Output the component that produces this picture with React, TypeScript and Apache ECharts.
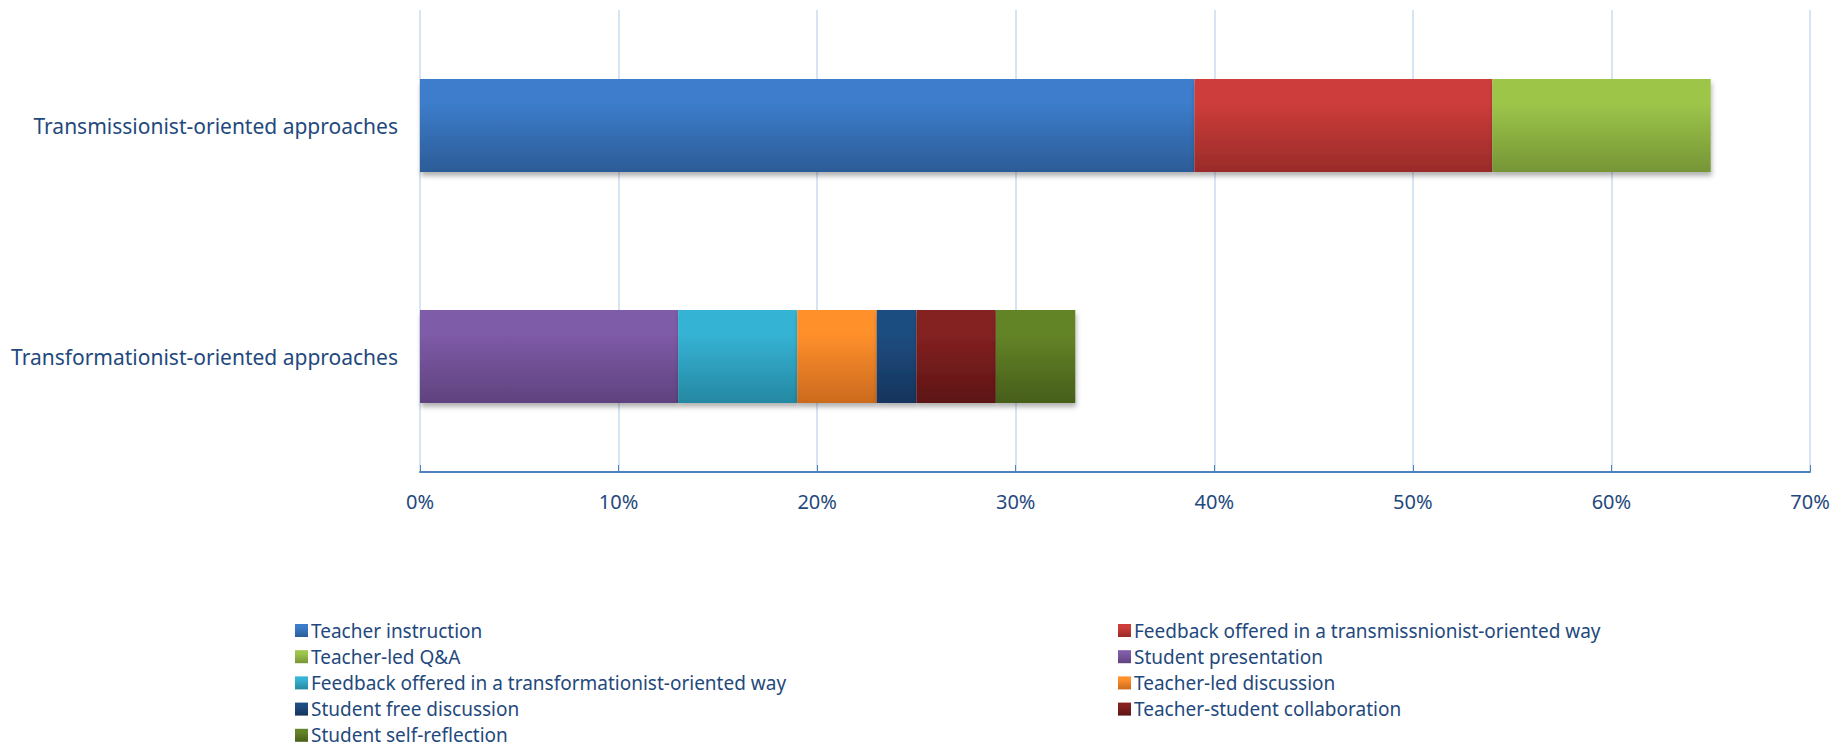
import React, { useEffect, useRef } from "react";
import * as echarts from "echarts";

const categories = ["Transmissionist-oriented approaches", "Transformationist-oriented approaches"];
const seriesNames = [
  "Teacher instruction",
  "Feedback offered in a transmissnionist-oriented way",
  "Teacher-led Q&A",
  "Student presentation",
  "Feedback offered in a transformationist-oriented way",
  "Teacher-led discussion",
  "Student free discussion",
  "Teacher-student collaboration",
  "Student self-reflection",
];
// values per series: [Transmissionist, Transformationist] (percent)
const teacherInstruction = [39, null];
const feedbackTransmission = [15, null];
const teacherLedQA = [11, null];
const studentPresentation = [null, 13];
const feedbackTransformation = [null, 6];
const teacherLedDiscussion = [null, 4];
const studentFreeDiscussion = [null, 2];
const teacherStudentCollab = [null, 4];
const studentSelfReflection = [null, 4];
const seriesValues = [
  teacherInstruction,
  feedbackTransmission,
  teacherLedQA,
  studentPresentation,
  feedbackTransformation,
  teacherLedDiscussion,
  studentFreeDiscussion,
  teacherStudentCollab,
  studentSelfReflection,
];
const gradientColors: [string, string][] = [
  ["#3C7DCB", "#2C5C97"],
  ["#CD3D3A", "#9A2B29"],
  ["#9DC64A", "#769536"],
  ["#7F5BA8", "#5F427E"],
  ["#36B3D5", "#2588A2"],
  ["#FF902C", "#CB6A1E"],
  ["#1F4D80", "#14345D"],
  ["#842121", "#5D1414"],
  ["#648428", "#465E19"],
];
const xTicks = { min: 0, max: 70, interval: 10 };
const leftLegend = [0, 2, 4, 6, 8];
const rightLegend = [1, 3, 5, 7];

const TEXT = "#1F497D";
const FONT = "'Noto Sans', 'Open Sans', sans-serif";

export default function App() {
  const ref = useRef<HTMLDivElement>(null);
  useEffect(() => {
    document.body.style.margin = "0";
    if (!ref.current) return;
    const chart = echarts.init(ref.current, undefined, { renderer: "svg" });
    const grad = (c: [string, string]) =>
      new echarts.graphic.LinearGradient(0, 0, 0, 1, [
        { offset: 0, color: c[0] },
        { offset: 0.25, color: c[0] },
        { offset: 1, color: c[1] },
      ]);
    const legendBase = {
      orient: "vertical" as const,
      top: 621,
      height: 200,
      itemWidth: 13,
      itemHeight: 13,
      itemGap: 7.2,
      icon: "rect",
      textStyle: { color: TEXT, fontSize: 19, fontFamily: FONT, padding: [0, 0, 0, -2] },
      padding: 0,
    };
    chart.setOption({
      animation: false,
      grid: { left: 420, right: 38, top: 10, bottom: 276, containLabel: false },
      xAxis: {
        type: "value",
        min: xTicks.min,
        max: xTicks.max,
        interval: xTicks.interval,
        axisLine: { show: true, lineStyle: { color: "#4F81BD", width: 2 } },
        axisTick: { show: true, inside: true, length: 7, lineStyle: { color: "#4F81BD", width: 1 } },
        axisLabel: { formatter: "{value}%", color: TEXT, fontSize: 20, fontFamily: FONT, margin: 19 },
        splitLine: { show: true, lineStyle: { color: "#C9DBF0", width: 1.5 } },
      },
      yAxis: {
        type: "category",
        data: categories,
        inverse: true,
        axisLine: { show: false },
        axisTick: { show: false },
        axisLabel: { color: TEXT, fontSize: 21, fontFamily: FONT, margin: 22 },
      },
      legend: [
        { ...legendBase, left: 295, data: leftLegend.map((i) => seriesNames[i]) },
        { ...legendBase, left: 1118, data: rightLegend.map((i) => seriesNames[i]) },
      ],
      series: seriesNames.map((name, i) => ({
        name,
        type: "bar",
        stack: "total",
        barWidth: 93,
        data: seriesValues[i],
        itemStyle: {
          color: grad(gradientColors[i]),
          shadowBlur: 5,
          shadowOffsetY: 4,
          shadowOffsetX: 1,
          shadowColor: "rgba(0,0,0,0.3)",
        },
      })),
    });
    return () => chart.dispose();
  }, []);
  return <div ref={ref} style={{ width: 1848, height: 748 }} />;
}
